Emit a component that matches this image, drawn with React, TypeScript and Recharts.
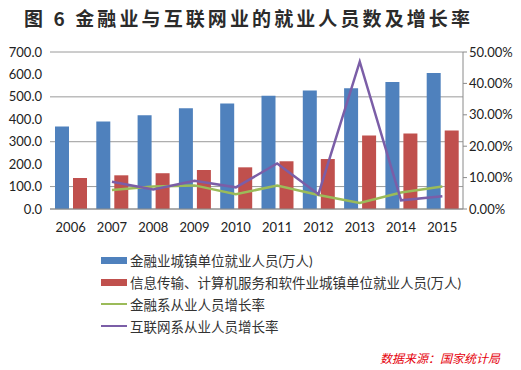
import { ComposedChart, Bar, Line, XAxis, YAxis, CartesianGrid } from "recharts";

const years = ["2006", "2007", "2008", "2009", "2010", "2011", "2012", "2013", "2014", "2015"];
const financeStaff = [367.4, 389.7, 417.6, 449.0, 470.1, 505.3, 527.8, 537.9, 566.3, 606.8];
const itStaff = [138.2, 150.2, 159.5, 173.8, 185.8, 212.8, 222.8, 327.3, 336.3, 349.9];
const financeGrowth = [null, 0.0607, 0.0716, 0.0752, 0.047, 0.0749, 0.0445, 0.0191, 0.0528, 0.0715];
const itGrowth = [null, 0.0868, 0.0619, 0.0897, 0.069, 0.145, 0.047, 0.469, 0.0275, 0.0404];
const leftTicks = [0, 100, 200, 300, 400, 500, 600, 700];
const rightTicks = [0, 0.1, 0.2, 0.3, 0.4, 0.5];

const seriesNames = {
  finance: "金融业城镇单位就业人员(万人)",
  it: "信息传输、计算机服务和软件业城镇单位就业人员(万人)",
  financeGrowth: "金融系从业人员增长率",
  itGrowth: "互联网系从业人员增长率",
};

const colors = {
  finance: "#4f81bd",
  it: "#c0504d",
  financeGrowth: "#9bbb59",
  itGrowth: "#7b5ea7",
};

const data = years.map((year, i) => ({
  year,
  finance: financeStaff[i],
  it: itStaff[i],
  financeGrowth: financeGrowth[i],
  itGrowth: itGrowth[i],
}));

const font = "Lato, 'Noto Sans CJK SC', sans-serif";
const tickStyle = { fontSize: 13, fill: "#222", fontFamily: font };

const legendItems = [
  { key: "finance", kind: "bar" },
  { key: "it", kind: "bar" },
  { key: "financeGrowth", kind: "line" },
  { key: "itGrowth", kind: "line" },
] as const;

export default function App() {
  return (
    <div style={{ position: "absolute", left: 0, top: 0, width: 521, height: 370, background: "#fff", fontFamily: font }}>
      <div
        style={{
          position: "absolute",
          left: 24,
          top: 4,
          whiteSpace: "nowrap",
          fontSize: 19,
          fontWeight: 700,
          letterSpacing: 3.1,
          color: "#2b2b2b",
          fontFamily: "'Noto Sans CJK SC', sans-serif",
        }}
      >
        图 6 金融业与互联网业的就业人员数及增长率
      </div>
      <ComposedChart
        width={521}
        height={370}
        data={data}
        margin={{ top: 52, right: 6, bottom: 141, left: 5 }}
        barGap={4}
        barCategoryGap={5}
      >
        <CartesianGrid vertical={false} stroke="#9a9a9a" yAxisId="left" />
        <XAxis
          dataKey="year"
          height={20}
          tick={{ ...tickStyle, dy: 6 }}
          tickLine={false}
          axisLine={{ stroke: "#8a8a8a" }}
        />
        <YAxis
          yAxisId="left"
          width={45}
          domain={[0, 700]}
          ticks={leftTicks}
          tick={tickStyle}
          tickFormatter={(v) => v.toFixed(1)}
          axisLine={false}
          tickLine={false}
        />
        <YAxis
          yAxisId="right"
          orientation="right"
          width={52}
          domain={[0, 0.5]}
          ticks={rightTicks}
          tick={tickStyle}
          tickFormatter={(v) => `${(v * 100).toFixed(2)}%`}
          axisLine={{ stroke: "#8a8a8a" }}
          tickLine={{ stroke: "#8a8a8a" }}
          tickSize={4}
        />
        <Bar yAxisId="left" dataKey="finance" name={seriesNames.finance} fill={colors.finance} isAnimationActive={false} />
        <Bar yAxisId="left" dataKey="it" name={seriesNames.it} fill={colors.it} isAnimationActive={false} />
        <Line
          yAxisId="right"
          type="linear"
          dataKey="financeGrowth"
          name={seriesNames.financeGrowth}
          stroke={colors.financeGrowth}
          strokeWidth={2.5}
          dot={false}
          isAnimationActive={false}
        />
        <Line
          yAxisId="right"
          type="linear"
          dataKey="itGrowth"
          name={seriesNames.itGrowth}
          stroke={colors.itGrowth}
          strokeWidth={2.5}
          dot={false}
          isAnimationActive={false}
        />
      </ComposedChart>
      {/* legend, stacked under the plot like the Excel original */}
      <div style={{ position: "absolute", left: 101, top: 249 }}>
        {legendItems.map((item) => (
          <div key={item.key} style={{ display: "flex", alignItems: "center", height: 22, fontSize: 13.5, color: "#333", whiteSpace: "nowrap" }}>
            <span
              style={{
                display: "inline-block",
                width: 26,
                height: item.kind === "bar" ? 7 : 2,
                background: colors[item.key],
                marginRight: 3,
              }}
            />
            {seriesNames[item.key]}
          </div>
        ))}
      </div>
      <div
        style={{
          position: "absolute",
          left: 380,
          top: 349,
          fontSize: 12,
          fontStyle: "italic",
          color: "#e5000b",
          fontFamily: "'Noto Sans CJK SC', sans-serif",
        }}
      >
        数据来源：国家统计局
      </div>
    </div>
  );
}
